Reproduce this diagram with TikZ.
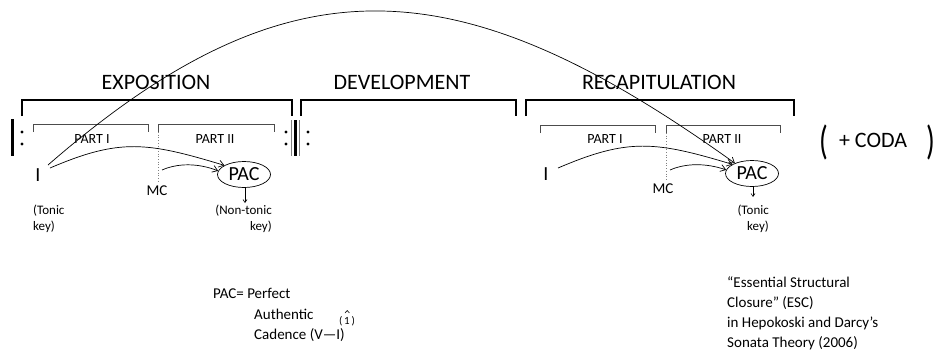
\documentclass[tikz,border=0pt]{standalone}
\usepackage{fontspec}
\setmainfont{Carlito}
\usetikzlibrary{arrows.meta,shapes.geometric}
\begin{document}
\begin{tikzpicture}[x=1pt,y=-1pt,
  bigbr/.style={line width=1.6pt,black},
  smallbr/.style={line width=0.8pt,black!70},
  dotline/.style={gray,dotted,line width=0.7pt},
  arr/.style={-{Straight Barb[length=5pt,width=7pt]},line width=0.7pt},
  smallarr/.style={-{Straight Barb[length=3pt,width=4pt]},line width=0.6pt},
  headlbl/.style={inner sep=0pt,font=\fontsize{22}{26}\selectfont},
  partlbl/.style={inner sep=0pt,font=\fontsize{14}{16}\selectfont},
  roman/.style={inner sep=0pt,font=\fontsize{20}{24}\selectfont},
  mclbl/.style={inner sep=0pt,font=\fontsize{15}{18}\selectfont},
  pacnode/.style={draw,ellipse,line width=0.7pt,inner sep=0pt,minimum width=53pt,minimum height=26pt,font=\fontsize{20}{24}\selectfont},
  keylbl/.style={inner sep=0pt,font=\fontsize{13}{16}\selectfont},
  notelbl/.style={inner sep=0pt,align=left,font=\fontsize{15}{21}\selectfont},
  parlbl/.style={inner sep=0pt,font=\fontsize{29}{32}\selectfont},
  dotmark/.style={fill=black}
]
\useasboundingbox (0,0) rectangle (939,354);

% headings
\node[headlbl] (expo) at (156,82) {EXPOSITION};
\node[headlbl] (devel) at (402,82) {DEVELOPMENT};
\node[headlbl] (recap) at (659,82) {RECAPITULATION};

% big brackets
\draw[bigbr] (22,116) -- (22,100) -- (292,100) -- (292,116);
\draw[bigbr] (301,116) -- (301,100) -- (516,100) -- (516,116);
\draw[bigbr] (526,116) -- (526,100) -- (794,100) -- (794,116);

% small brackets
\draw[smallbr] (33,132) -- (33,124) -- (148,124) -- (148,132);
\draw[smallbr] (158,132) -- (158,124) -- (274,124) -- (274,132);
\draw[smallbr] (540,133) -- (540,125) -- (655,125) -- (655,133);
\draw[smallbr] (666,133) -- (666,125) -- (780,125) -- (780,133);
\draw[dotline] (158,132) -- (158,183);
\draw[dotline] (666,133) -- (666,180);

\node[partlbl] (p1a) at (92,139) {PART I};
\node[partlbl] (p2a) at (215,139) {PART II};
\node[partlbl] (p1b) at (605,139) {PART I};
\node[partlbl] (p2b) at (722,139) {PART II};

% repeat signs
\fill (10.5,119) rectangle (14,156);
\fill[dotmark] (22,132) circle (1.7);
\fill[dotmark] (22,144) circle (1.7);
\fill[dotmark] (286,132) circle (1.7);
\fill[dotmark] (286,144) circle (1.7);
\fill[gray] (290.8,120) rectangle (292.2,156);
\fill (293.6,120) rectangle (297.4,156);
\fill[gray] (298.8,120) rectangle (300.2,156);
\fill[dotmark] (308,132) circle (1.7);
\fill[dotmark] (308,144) circle (1.7);

% exposition nodes
\node[roman] (I1) at (38,175) {I};
\node[mclbl] (MC1) at (157,191) {MC};
\node[pacnode] (PAC1) at (244,174.5) {PAC};
\node[keylbl,align=left,anchor=north west] (tk1) at (33,205) {(Tonic\\key)};
\node[keylbl,align=right,anchor=north east] (ntk1) at (272,205) {(Non-tonic\\key)};

% recap nodes
\node[roman] (I2) at (546,174) {I};
\node[mclbl] (MC2) at (663,189) {MC};
\node[pacnode] (PAC2) at (752,173.5) {PAC};
\node[keylbl,align=right,anchor=north east] (tk2) at (769,205) {(Tonic\\key)};

% coda
\node[parlbl] (lp) at (824,142) {\scalebox{1}[1.4]{(}};
\node[headlbl] (coda) at (873,140) {+ CODA};
\node[parlbl] (rp) at (931,142) {\scalebox{1}[1.4]{)}};

% curve start points
\coordinate (arcs) at (48,165);
\coordinate (i1s) at (50,168);
\coordinate (mc1s) at (162,170);
\coordinate (i2s) at (558,168);
\coordinate (mc2s) at (670,170);
\coordinate (k1) at (245,203);
\coordinate (k2) at (753,197);

% connectors
\draw[arr] (arcs) .. controls (289.7,-45) and (458.6,-35) .. (PAC2.149);
\draw[arr] (i1s) .. controls (120,138) and (147,142) .. (PAC1.155);
\draw[arr] (mc1s) .. controls (178,163) and (198,163) .. (PAC1.172);
\draw[arr] (i2s) .. controls (628,138) and (655,141) .. (PAC2.155);
\draw[arr] (mc2s) .. controls (686,163) and (706,163) .. (PAC2.172);
\draw[smallarr] (PAC1.south -| k1) -- (k1);
\draw[smallarr] (PAC2.south -| k2) -- (k2);

% notes
\node[notelbl,anchor=west] (pacdefa) at (213,293) {PAC= Perfect};
\node[notelbl,anchor=west] (pacdefb) at (254,314) {Authentic};
\node[notelbl,anchor=west] (pacdefc) at (254,335) {Cadence (V—I)};
\node[inner sep=0pt,font=\fontsize{11}{13}\selectfont] (deg) at (347,321) {(\,1\,)};
\draw[line width=0.6pt] (345,313) -- (347.2,310.5) -- (349.4,313);
\node[notelbl,anchor=north west,font=\fontsize{15}{20}\selectfont] (esc) at (727,276) {“Essential Structural\\Closure” (ESC)\\in Hepokoski and Darcy’s\\Sonata Theory (2006)};
\end{tikzpicture}
\end{document}
